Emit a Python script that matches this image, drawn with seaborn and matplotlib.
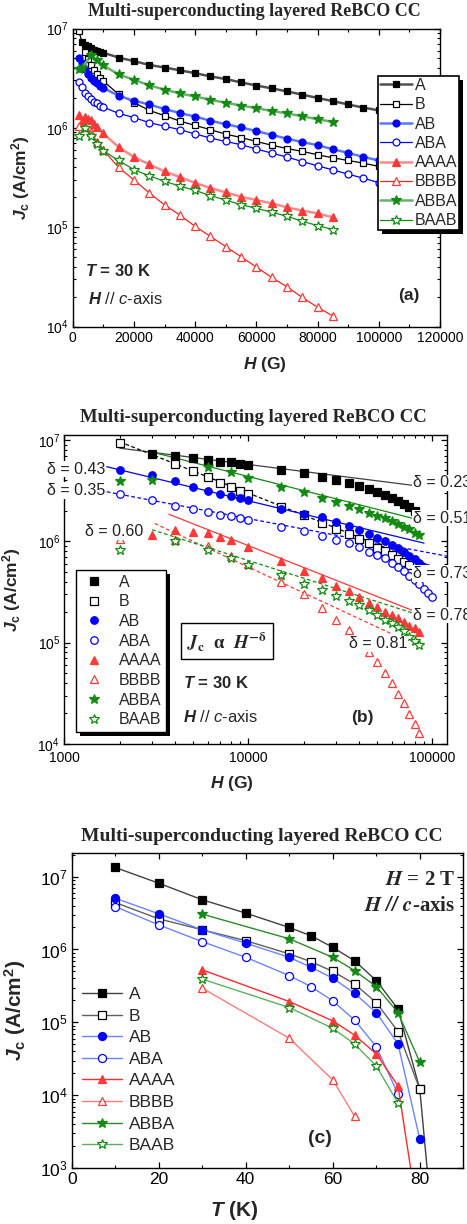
import matplotlib
matplotlib.use("Agg")
import matplotlib.pyplot as plt
import seaborn as sns
from matplotlib.patches import Rectangle
from matplotlib.ticker import FixedLocator, NullFormatter, LogLocator

# ---------------- data: panel (a) and (b), Jc vs H at 30 K ----------------
names = ["A", "B", "AB", "ABA", "AAAA", "BBBB", "ABBA", "BAAB"]

H_A = [3000, 4000, 5000, 6000, 7000, 8000, 9000, 10000,
       15000, 20000, 25000, 30000, 35000, 40000, 45000, 50000, 55000, 60000,
       65000, 70000, 75000, 80000, 85000, 90000, 95000, 100000]
Jc_A = [7.3e6, 6.9e6, 6.6e6, 6.3e6, 6.1e6, 6.0e6, 5.85e6, 5.7e6,
        5.1e6, 4.7e6, 4.3e6, 4.05e6, 3.8e6, 3.55e6, 3.3e6, 3.1e6, 2.87e6, 2.67e6,
        2.5e6, 2.33e6, 2.16e6, 2.0e6, 1.86e6, 1.72e6, 1.6e6, 1.5e6]

H_B = [2000, 4000, 5000, 6000, 7000, 8000, 9000, 10000,
       15000, 20000, 25000, 30000, 35000, 40000, 45000, 50000, 55000, 60000,
       65000, 70000, 75000, 80000, 85000, 90000, 95000, 100000]
Jc_B = [9.4e6, 5.85e6, 4.95e6, 4.27e6, 3.8e6, 3.45e6, 3.17e6, 2.96e6,
        2.18e6, 1.8e6, 1.5e6, 1.33e6, 1.17e6, 1.06e6, 9.6e5, 8.65e5, 8.0e5, 7.3e5,
        6.7e5, 6.2e5, 5.8e5, 5.37e5, 5.0e5, 4.7e5, 4.42e5, 4.1e5]

H_AB = [2000, 3000, 4000, 5000, 6000, 7000, 8000, 9000, 10000,
        15000, 20000, 25000, 30000, 35000, 40000, 45000, 50000, 55000, 60000,
        65000, 70000, 75000, 80000, 85000, 90000, 95000, 100000]
Jc_AB = [5.0e6, 4.5e6, 3.9e6, 3.45e6, 3.15e6, 2.95e6, 2.8e6, 2.67e6, 2.53e6,
         2.1e6, 1.88e6, 1.72e6, 1.55e6, 1.41e6, 1.3e6, 1.18e6, 1.09e6, 1.01e6, 9.3e5,
         8.5e5, 7.8e5, 7.2e5, 6.7e5, 6.1e5, 5.6e5, 5.1e5, 4.7e5]

H_ABA = [2000, 3000, 4000, 5000, 6000, 7000, 8000, 9000, 10000,
         15000, 20000, 25000, 30000, 35000, 40000, 45000, 50000, 55000, 60000,
         65000, 70000, 75000, 80000, 85000, 90000, 95000, 100000]
Jc_ABA = [2.9e6, 2.55e6, 2.25e6, 2.08e6, 1.96e6, 1.83e6, 1.76e6, 1.68e6, 1.62e6,
          1.4e6, 1.27e6, 1.13e6, 1.04e6, 9.6e5, 8.7e5, 7.9e5, 7.3e5, 6.78e5, 6.13e5,
          5.58e5, 5.09e5, 4.59e5, 4.15e5, 3.78e5, 3.42e5, 3.12e5, 2.81e5]

H_AAAA = [2000, 3000, 4000, 5000, 6000, 7000, 8000, 10000,
          15000, 20000, 25000, 30000, 35000, 40000, 45000, 50000, 55000, 60000,
          65000, 70000, 75000, 80000, 85000]
Jc_AAAA = [1.35e6, 1.15e6, 1.3e6, 1.24e6, 1.2e6, 1.1e6, 1.02e6, 8.8e5,
           6.4e5, 5.1e5, 4.3e5, 3.65e5, 3.2e5, 2.8e5, 2.48e5, 2.25e5, 2.03e5, 1.88e5,
           1.74e5, 1.59e5, 1.47e5, 1.38e5, 1.26e5]

H_BBBB = [2000, 4000, 6000, 8000, 10000,
          15000, 20000, 25000, 30000, 35000, 40000, 45000, 50000, 55000, 60000,
          65000, 70000, 75000, 80000, 85000]
Jc_BBBB = [1.05e6, 1.02e6, 9.0e5, 7.2e5, 6.0e5,
           4.0e5, 3.0e5, 2.22e5, 1.68e5, 1.33e5, 1.02e5, 8.1e4, 6.4e4, 5.05e4, 3.98e4,
           3.13e4, 2.52e4, 1.97e4, 1.57e4, 1.28e4]

H_ABBA = [2000, 3000, 6000, 8000, 10000,
          15000, 20000, 25000, 30000, 35000, 40000, 45000, 50000, 55000, 60000,
          65000, 70000, 75000, 80000, 85000]
Jc_ABBA = [3.9e6, 4.0e6, 5.4e6, 4.8e6, 4.25e6,
           3.45e6, 3.05e6, 2.68e6, 2.43e6, 2.22e6, 2.07e6, 1.92e6, 1.79e6, 1.68e6, 1.58e6,
           1.48e6, 1.4e6, 1.31e6, 1.22e6, 1.15e6]

H_BAAB = [2000, 4000, 6000, 8000, 10000,
          15000, 20000, 25000, 30000, 35000, 40000, 45000, 50000, 55000, 60000,
          65000, 70000, 75000, 80000, 85000]
Jc_BAAB = [8.3e5, 1.0e6, 8.3e5, 6.9e5, 5.9e5,
           4.7e5, 3.8e5, 3.3e5, 2.9e5, 2.6e5, 2.35e5, 2.08e5, 1.88e5, 1.69e5, 1.55e5,
           1.42e5, 1.29e5, 1.15e5, 1.04e5, 9.5e4]

H_data = [H_A, H_B, H_AB, H_ABA, H_AAAA, H_BBBB, H_ABBA, H_BAAB]
Jc_data = [Jc_A, Jc_B, Jc_AB, Jc_ABA, Jc_AAAA, Jc_BBBB, Jc_ABBA, Jc_BAAB]

# panel (b) shows each set only up to this field
H_max_b = [80000, 75000, 90000, 100000, 85000, 85000, 85000, 85000]

# power-law fits in (b): end points (H, Jc) and exponent labels
fit_H0 = [2000, 2000, 1700, 1700, 3700, 3100, 3000, 3000]
fit_H1 = [80000, 112000, 90000, 127000, 87000, 59000, 83000, 100000]
fit_J0 = [8.3e6, 9.6e6, 5.45e6, 3.08e6, 1.85e6, 1.5e6, 7.6e6, 1.3e6]
fit_J1 = [3.55e6, 5.2e5, 9.6e5, 7.0e5, 1.92e5, 1.24e5, 1.64e6, 1.7e5]
delta_txt = ["δ = 0.23", "δ = 0.73", "δ = 0.43", "δ = 0.35",
             "δ = 0.78", "δ = 0.81", "δ = 0.51", "δ = 0.60"]

# ---------------- data: panel (c), Jc vs T at 2 T ----------------
T_A = [10, 20, 30, 40, 50, 55, 60, 65, 70, 75, 80, 82.5]
Jc_T_A = [1.33e7, 8.1e6, 4.8e6, 3.15e6, 2.0e6, 1.54e6, 1.07e6, 7.0e5, 3.75e5, 1.52e5, 1.21e4, 3.0e2]
T_B = [10, 20, 30, 40, 50, 55, 60, 65, 70, 75, 80]
Jc_T_B = [4.4e6, 2.63e6, 1.86e6, 1.32e6, 8.7e5, 6.8e5, 5.0e5, 3.37e5, 1.87e5, 7.5e4, 1.21e4]
T_AB = [10, 20, 30, 40, 50, 55, 60, 65, 70, 75, 80]
Jc_T_AB = [5.05e6, 3.08e6, 1.86e6, 1.22e6, 7.8e5, 5.7e5, 4.04e5, 2.51e5, 1.36e5, 5.07e4, 2.5e3]
T_ABA = [10, 20, 30, 40, 50, 55, 60, 65, 70, 75]
Jc_T_ABA = [3.87e6, 2.17e6, 1.28e6, 7.8e5, 4.38e5, 3.1e5, 1.97e5, 1.08e5, 4.66e4, 1.04e4]
T_AAAA = [30, 50, 60, 65, 70, 75, 80]
Jc_T_AAAA = [5.25e5, 1.93e5, 1.05e5, 6.7e4, 3.7e4, 1.35e4, 1.5e2]
T_BBBB = [30, 50, 60, 65]
Jc_T_BBBB = [2.95e5, 6.07e4, 1.63e4, 5.2e3]
T_ABBA = [30, 50, 60, 65, 70, 75, 80]
Jc_T_ABBA = [3.05e6, 1.4e6, 7.8e5, 5.14e5, 3.1e5, 1.36e5, 2.85e4]
T_BAAB = [30, 50, 60, 65, 70, 75]
Jc_T_BAAB = [3.92e5, 1.6e5, 8.3e4, 5.07e4, 2.53e4, 7.8e3]

T_data = [T_A, T_B, T_AB, T_ABA, T_AAAA, T_BBBB, T_ABBA, T_BAAB]
JcT_data = [Jc_T_A, Jc_T_B, Jc_T_AB, Jc_T_ABA, Jc_T_AAAA, Jc_T_BBBB, Jc_T_ABBA, Jc_T_BAAB]

# ---------------- styles ----------------
BLUE, RED, GREEN = "#0000ff", "#ff3838", "#138a13"
marker = ["s", "s", "o", "o", "^", "^", "*", "*"]
face = ["k", "white", BLUE, "white", RED, "white", GREEN, "white"]
edge = ["k", "k", BLUE, BLUE, RED, RED, GREEN, GREEN]
line_a = ["#505050", "k", "#5a78ff", BLUE, "#ff8a8a", "#ff2020", "#6cb06c", GREEN]
lw_a = [1.8, 0.9, 1.8, 0.9, 1.8, 0.9, 1.8, 0.9]
size = [4.8, 4.8, 5.0, 5.0, 5.6, 5.6, 7.0, 7.0]
fit_color = ["#404040", "k", BLUE, BLUE, RED, RED, GREEN, GREEN]
fit_ls = ["-", (0, (3, 2)), "-", (0, (3, 2)), "-", (0, (3, 2)), "-", (0, (3, 2))]
line_c = ["#404040", "#606060", "#6a84ff", "#6a84ff", "#ff2a2a", "#ff7a7a", "#2a8a2a", "#5cb05c"]

sns.set_style("ticks")
plt.rcParams["font.family"] = ["Liberation Sans", "DejaVu Sans"]
plt.rcParams["mathtext.fontset"] = "custom"
plt.rcParams["mathtext.rm"] = "Liberation Sans"
plt.rcParams["mathtext.it"] = "Liberation Sans:italic"
plt.rcParams["mathtext.bf"] = "Liberation Sans:bold"
plt.rcParams["mathtext.bfit"] = "Liberation Sans:bold:italic"
plt.rcParams["axes.linewidth"] = 1.0
plt.rcParams["axes.edgecolor"] = "k"

W, HT = 467, 1224
fig = plt.figure(figsize=(W / 100, HT / 100), dpi=100)


def px_axes(l, t, r, b):
    return fig.add_axes([l / W, 1 - b / HT, (r - l) / W, (b - t) / HT])


def style_ax(ax, fs):
    ax.tick_params(which="both", direction="in", top=True, right=True, colors="k",
                   labelsize=fs, pad=3)
    ax.tick_params(which="major", length=4.5, width=0.9)
    ax.tick_params(which="minor", length=2.5, width=0.8)


def title(x, y, fs):
    fig.text(x / W, 1 - y / HT, "Multi-superconducting layered ReBCO CC",
             family="Liberation Serif", weight="bold", fontsize=fs,
             ha="center", va="center")


def shadow(ax, leg, off=4):
    fig.canvas.draw()
    bb = leg.get_window_extent().transformed(ax.transAxes.inverted())
    w_ax = ax.get_window_extent()
    dx, dy = off / w_ax.width, off / w_ax.height
    ax.add_patch(Rectangle((bb.x0 + dx, bb.y0 - dy), bb.width, bb.height,
                           transform=ax.transAxes, fc="k", ec="none",
                           clip_on=False, zorder=leg.get_zorder() - 0.5))


YLAB = r"$\mathbfit{J}_{\mathbf{c}}$ (A/cm$^{\mathbf{2}}$)"

# ================= panel (a) =================
ax = px_axes(72.7, 28.5, 440, 326.7)
ax.set_yscale("log")
for i, nm in enumerate(names):
    sns.lineplot(x=H_data[i], y=Jc_data[i], ax=ax, color=line_a[i], linewidth=lw_a[i],
                 marker=marker[i], markersize=size[i], markerfacecolor=face[i],
                 markeredgecolor=edge[i], markeredgewidth=0.9, label=nm,
                 estimator=None, sort=False)
ax.set_xlim(0, 120000)
ax.set_ylim(1e4, 1e7)
ax.xaxis.set_major_locator(FixedLocator([0, 20000, 40000, 60000, 80000, 100000, 120000]))
ax.xaxis.set_minor_locator(FixedLocator([10000, 30000, 50000, 70000, 90000, 110000]))
ax.yaxis.set_minor_locator(LogLocator(base=10, subs=range(2, 10)))
ax.yaxis.set_minor_formatter(NullFormatter())
style_ax(ax, 10)
ax.set_xlabel(r"$\mathbfit{H}$ (G)", fontsize=12.5, weight="bold")
ax.xaxis.set_label_coords(0.524, -0.095)
ax.set_ylabel(YLAB, fontsize=12.5, weight="bold")
ax.yaxis.set_label_coords(-0.112, 0.5)
ax.text(0.034, 0.188, r"$\mathbfit{T}$ = 30 K", transform=ax.transAxes,
        fontsize=12, weight="bold", va="center")
ax.text(0.042, 0.093, r"$\mathbfit{H}$ $\mathit{//}$ $\mathit{c}$-axis",
        transform=ax.transAxes, fontsize=12, va="center")
ax.text(0.916, 0.103, "(a)", transform=ax.transAxes, fontsize=12.5,
        weight="bold", ha="center", va="center")
leg = ax.legend(loc="upper left", bbox_to_anchor=(377.7 / W, 1 - 76 / HT),
                bbox_transform=fig.transFigure, frameon=True, fancybox=False,
                edgecolor="k", framealpha=1, fontsize=11.5, handlelength=2.0,
                handletextpad=0.2, labelspacing=0.27, borderpad=0.12, borderaxespad=0)
leg.get_frame().set_linewidth(1.2)
leg.set_zorder(20)
shadow(ax, leg)
title(254.5, 11, 13)

# ================= panel (b) =================
ax = px_axes(64.3, 435, 447, 744)
ax.set_xscale("log")
ax.set_yscale("log")
for i, nm in enumerate(names):
    hx = [h for h in H_data[i] if h <= H_max_b[i]]
    jy = [j for h, j in zip(H_data[i], Jc_data[i]) if h <= H_max_b[i]]
    sns.lineplot(x=hx, y=jy, ax=ax, linestyle="none", marker=marker[i],
                 markersize=size[i] + 0.4, markerfacecolor=face[i],
                 markeredgecolor=edge[i], markeredgewidth=0.9, label=nm,
                 estimator=None, sort=False, zorder=3)
for i in range(len(names)):
    sns.lineplot(x=[fit_H0[i], fit_H1[i]], y=[fit_J0[i], fit_J1[i]], ax=ax,
                 color=fit_color[i], linewidth=0.9, linestyle=fit_ls[i],
                 estimator=None, sort=False, zorder=2)
ax.set_xlim(1000, 120000)
ax.set_ylim(1e4, 1.12e7)
ax.set_xticks([1000, 10000, 100000], labels=["1000", "10000", "100000"])
ax.xaxis.set_minor_locator(LogLocator(base=10, subs=range(2, 10)))
ax.xaxis.set_minor_formatter(NullFormatter())
ax.yaxis.set_minor_locator(LogLocator(base=10, subs=range(2, 10)))
ax.yaxis.set_minor_formatter(NullFormatter())
style_ax(ax, 10)
ax.tick_params(axis="x", pad=5)
ax.set_xlabel(r"$\mathbfit{H}$ (G)", fontsize=12.5, weight="bold")
ax.xaxis.set_label_coords(0.438, -0.097)
ax.set_ylabel(YLAB, fontsize=12.5, weight="bold")
ax.yaxis.set_label_coords(-0.108, 0.5)
leg = ax.legend(loc="upper left", bbox_to_anchor=(76 / W, 1 - 570 / HT),
                bbox_transform=fig.transFigure, frameon=True, fancybox=False,
                edgecolor="k", framealpha=1, fontsize=11.5, handlelength=1.6,
                handletextpad=0.8, labelspacing=0.29, borderpad=0.3,
                borderaxespad=0, numpoints=1)
leg.get_frame().set_linewidth(1.0)
leg.set_zorder(20)
shadow(ax, leg, off=4)
ax.text(0.425, 0.333, r"$\mathbfit{J}_{\mathbf{c}}$  α  $\mathbfit{H}^{\mathbf{-δ}}$",
        transform=ax.transAxes, family="Liberation Serif", weight="bold",
        fontsize=13.5, ha="center", va="center", math_fontfamily="stix",
        bbox=dict(boxstyle="square,pad=0.35", fc="white", ec="k", lw=1.0))
ax.text(0.31, 0.197, r"$\mathbfit{T}$ = 30 K", transform=ax.transAxes,
        fontsize=12, weight="bold", va="center")
ax.text(0.31, 0.087, r"$\mathbfit{H}$ $\mathit{//}$ $\mathit{c}$-axis",
        transform=ax.transAxes, fontsize=12, va="center")
ax.text(0.778, 0.087, "(b)", transform=ax.transAxes, fontsize=12.5,
        weight="bold", ha="center", va="center")
delta_pos = [(413, 483), (413, 573.5), (47, 469), (47, 490.7),
             (413, 615), (349, 644), (413, 518), (85, 531.7)]
for txt, (xp, yp) in zip(delta_txt, delta_pos):
    fig.text(xp / W, 1 - yp / HT, txt, fontsize=11.5, va="center", ha="left",
             color="#222222", zorder=30,
             bbox=dict(boxstyle="square,pad=0.05", fc="white", ec="none"))
title(253, 417, 13.5)

# ================= panel (c) =================
ax = px_axes(71.7, 853, 463.3, 1168.3)
ax.set_yscale("log")
for i, nm in enumerate(names):
    sns.lineplot(x=T_data[i], y=JcT_data[i], ax=ax, color=line_c[i], linewidth=1.0,
                 marker=marker[i], markersize=size[i] + 0.8, markerfacecolor=face[i],
                 markeredgecolor=edge[i], markeredgewidth=0.9, label=nm,
                 estimator=None, sort=False)
ax.set_xlim(0, 90)
ax.set_ylim(1e3, 2.1e7)
ax.xaxis.set_major_locator(FixedLocator([0, 20, 40, 60, 80]))
ax.xaxis.set_minor_locator(FixedLocator([10, 30, 50, 70, 90]))
ax.yaxis.set_minor_locator(LogLocator(base=10, subs=range(2, 10)))
ax.yaxis.set_minor_formatter(NullFormatter())
style_ax(ax, 12.5)
ax.set_xlabel(r"$\mathbfit{T}$ (K)", fontsize=15, weight="bold")
ax.xaxis.set_label_coords(0.414, -0.098)
ax.set_ylabel(YLAB, fontsize=15, weight="bold")
ax.yaxis.set_label_coords(-0.112, 0.5)
ax.text(0.979, 0.914, r"$\mathbfit{H}$ = 2 T", transform=ax.transAxes,
        family="Liberation Serif", weight="bold", fontsize=15, ha="right",
        va="center", math_fontfamily="stix")
ax.text(0.979, 0.832, r"$\mathbfit{H}$ $\mathbfit{//}$ $\mathbfit{c}$-axis",
        transform=ax.transAxes, family="Liberation Serif", weight="bold",
        fontsize=15, ha="right", va="center", math_fontfamily="stix")
ax.text(0.634, 0.096, "(c)", transform=ax.transAxes, fontsize=14,
        weight="bold", ha="center", va="center")
leg = ax.legend(loc="upper left", bbox_to_anchor=(82 / W, 1 - 987 / HT),
                bbox_transform=fig.transFigure, frameon=False, fontsize=12.5,
                handlelength=2.3, handletextpad=0.4, labelspacing=0.37,
                borderpad=0, borderaxespad=0)
title(262, 836.7, 14)

fig.savefig("out.png", dpi=100)
